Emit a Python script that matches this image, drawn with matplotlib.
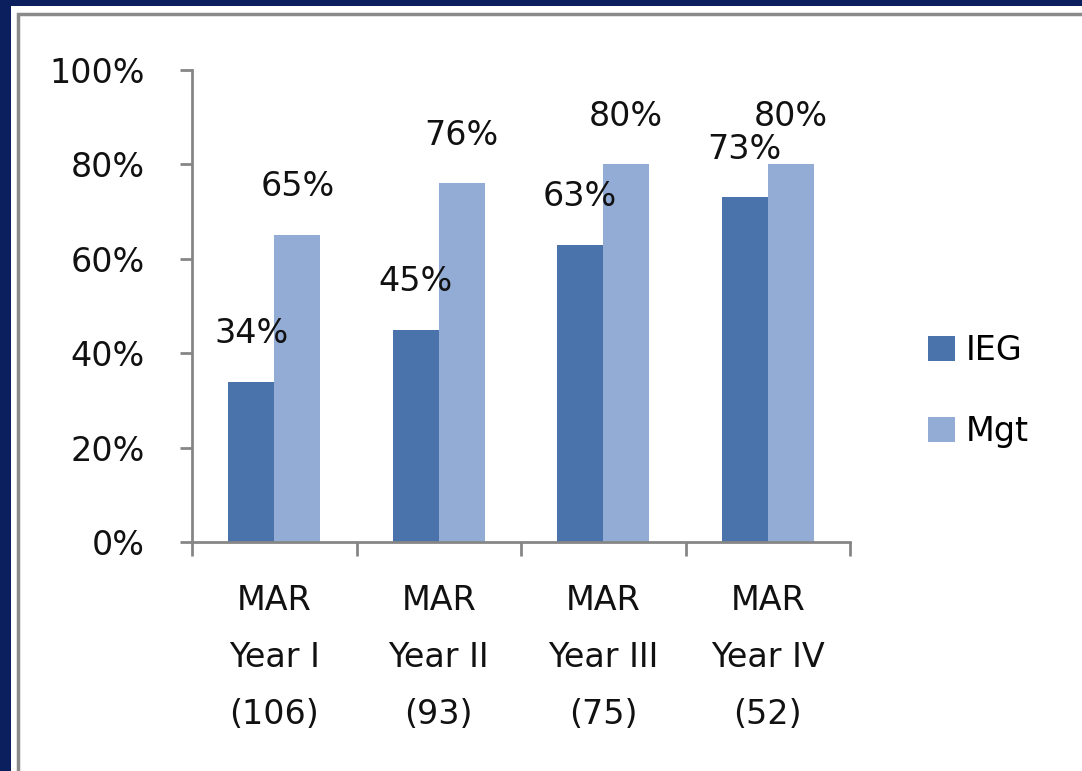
import matplotlib
matplotlib.use('Agg')
import matplotlib.pyplot as plt
from matplotlib.patches import Rectangle
import numpy as np

categories = ['MAR\nYear I\n(106)', 'MAR\nYear II\n(93)', 'MAR\nYear III\n(75)', 'MAR\nYear IV\n(52)']
ieg = [0.34, 0.45, 0.63, 0.73]
mgt = [0.65, 0.76, 0.80, 0.80]
yticks = [0, 0.2, 0.4, 0.6, 0.8, 1.0]
ytick_labels = ['0%', '20%', '40%', '60%', '80%', '100%']

W, H = 1082, 771
plt.rcParams['font.family'] = ['DejaVu Sans']

fig = plt.figure(figsize=(W / 100, H / 100), dpi=100)
fig.patch.set_facecolor('#0b1f5e')

# white panel with thin grey frame, kept behind the axes
fig.patches.append(Rectangle((11 / W, 0), 1, 1 - 6 / H, transform=fig.transFigure,
                             facecolor='white', edgecolor='none', zorder=-2))
fig.patches.append(Rectangle((18 / W, -0.01), 1, 1 - 14 / H + 0.01, transform=fig.transFigure,
                             facecolor='none', edgecolor='#8a8a8a', lw=2.5, zorder=-1))

ax = fig.add_axes([192 / W, 229 / H, 658 / W, 472 / H])
ax.set_facecolor('none')

x = np.arange(len(categories))
w = 0.28
b1 = ax.bar(x - w / 2, ieg, w, color='#4a72ab', label='IEG')
b2 = ax.bar(x + w / 2, mgt, w, color='#93acd6', label='Mgt')

for bars, vals in ((b1, ieg), (b2, mgt)):
    for r, v in zip(bars, vals):
        ax.text(r.get_x() + r.get_width() / 2, v + 0.082, '%d%%' % round(v * 100),
                ha='center', va='baseline', fontsize=24, color='#111111')

ax.set_xlim(-0.5, len(categories) - 0.5)
ax.set_ylim(0, 1)
ax.set_yticks(yticks)
ax.set_yticklabels(ytick_labels)
ax.set_xticks(x)
ax.set_xticklabels(categories, linespacing=1.93)
ax.set_xticks(np.arange(-0.5, len(categories)), minor=True)

for s in ['top', 'right']:
    ax.spines[s].set_visible(False)
for s in ['left', 'bottom']:
    ax.spines[s].set_color('#868686')
    ax.spines[s].set_linewidth(2)

ax.tick_params(axis='y', length=9, width=2, color='#868686', pad=25, labelsize=24, labelcolor='#111111')
ax.tick_params(axis='x', which='major', length=0, pad=30, labelsize=24, labelcolor='#111111')
ax.tick_params(axis='x', which='minor', length=10, width=2, color='#868686')

fig.legend(handles=[b1, b2], loc='center left', bbox_to_anchor=(928 / W, 1 - 391 / H),
           frameon=False, fontsize=24, borderpad=0, borderaxespad=0,
           handlelength=0.82, handleheight=0.76, handletextpad=0.3, labelspacing=1.45)

fig.savefig('out.png', dpi=100, facecolor=fig.get_facecolor())
